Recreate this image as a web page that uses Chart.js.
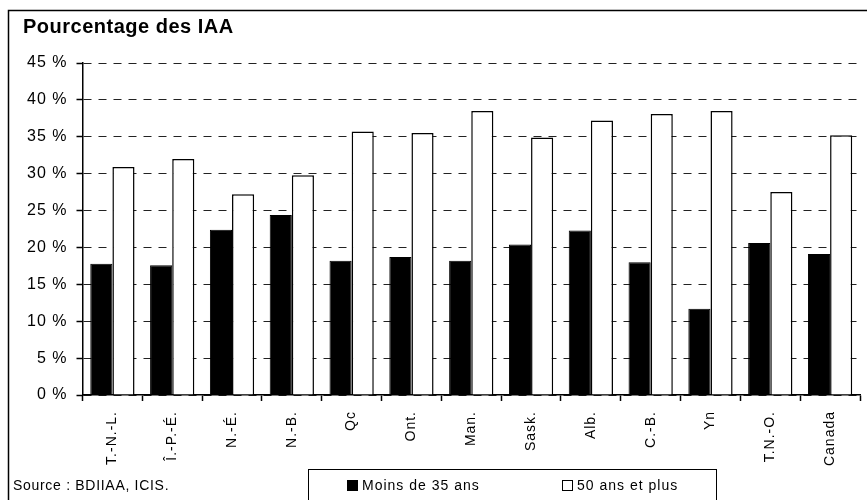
<!DOCTYPE html>
<html>
<head>
<meta charset="utf-8">
<script src="https://cdn.jsdelivr.net/npm/chart.js@4/dist/chart.umd.min.js"></script>
<style>
  html, body { margin: 0; padding: 0; background: #fff; }
  #chart { display: block; }
</style>
</head>
<body>
<canvas id="chart" width="867" height="500"></canvas>
<script>
// Data
const provinces = ['T.-N.-L.', 'Î.-P.-É.', 'N.-É.', 'N.-B.', 'Qc', 'Ont.', 'Man.',
    'Sask.', 'Alb.', 'C.-B.', 'Yn', 'T.N.-O.', 'Canada'];
const moins35 = [17.8, 17.6, 22.4, 24.4, 18.2, 18.7, 18.2, 20.4, 22.3, 18.0, 11.7, 20.6, 19.1];
const plus50 = [30.9, 32.0, 27.2, 29.8, 35.7, 35.5, 38.5, 34.9, 37.2, 38.1, 38.5, 27.5, 35.2];
const seriesNames = ['Moins de 35 ans', '50 ans et plus'];
const yTicks = [0, 5, 10, 15, 20, 25, 30, 35, 40, 45];

const FONT = "'Liberation Sans', Arial, sans-serif";

// Frame, title, source note and the boxed legend
const decorations = {
    id: 'decorations',
    beforeUpdate(chart) {
        chart.ctx.letterSpacing = '1px';
    },
    beforeDraw(chart) {
        const ctx = chart.ctx;
        ctx.save();
        ctx.fillStyle = '#fff';
        ctx.fillRect(0, 0, chart.width, chart.height);
        ctx.restore();
    },
    afterDraw(chart) {
        const ctx = chart.ctx;
        ctx.save();
        ctx.strokeStyle = '#000';
        ctx.lineWidth = 1.5;
        ctx.strokeRect(8.5, 10.5, 870, 500);

        ctx.fillStyle = '#000';
        ctx.textBaseline = 'alphabetic';
        ctx.textAlign = 'left';
        ctx.letterSpacing = '0.5px';
        ctx.font = 'bold 20px ' + FONT;
        ctx.fillText('Pourcentage des IAA', 23, 33);

        ctx.letterSpacing = '0.7px';
        ctx.font = '14px ' + FONT;
        ctx.textBaseline = 'middle';
        ctx.fillText('Source : BDIIAA, ICIS.', 13, 486);

        // legend box
        ctx.lineWidth = 1;
        ctx.strokeRect(308.5, 469.5, 408, 40);
        const items = [
            { x: 347, text: seriesNames[0], ds: chart.data.datasets[0] },
            { x: 562, text: seriesNames[1], ds: chart.data.datasets[1] }
        ];
        ctx.letterSpacing = '1px';
        ctx.font = '14px ' + FONT;
        items.forEach(function (it) {
            ctx.fillStyle = it.ds.backgroundColor;
            ctx.fillRect(it.x, 480, 11, 11);
            ctx.strokeStyle = '#000';
            ctx.strokeRect(it.x + 0.5, 480.5, 10, 10);
            ctx.fillStyle = '#000';
            ctx.fillText(it.text, it.x + 15, 486);
        });
        ctx.restore();
    }
};

new Chart(document.getElementById('chart').getContext('2d'), {
    type: 'bar',
    data: {
        labels: provinces,
        datasets: [{
            label: seriesNames[0],
            data: moins35,
            backgroundColor: '#000',
            borderColor: '#000',
            borderWidth: 1,
            categoryPercentage: 0.74,
            barPercentage: 1
        }, {
            label: seriesNames[1],
            data: plus50,
            backgroundColor: '#fff',
            borderColor: '#000',
            borderWidth: 1.5,
            categoryPercentage: 0.74,
            barPercentage: 1
        }]
    },
    options: {
        responsive: false,
        animation: false,
        devicePixelRatio: 1,
        layout: { padding: { left: 0, right: 7, top: 63, bottom: 0 } },
        plugins: {
            legend: { display: false },
            title: { display: false },
            tooltip: { enabled: false }
        },
        scales: {
            x: {
                afterFit: function (scale) { scale.height = 105; },
                grid: {
                    offset: true,
                    drawOnChartArea: false,
                    drawTicks: true,
                    tickLength: 6,
                    tickColor: '#000',
                    tickWidth: 1.5
                },
                border: { display: true, color: '#000', width: 1.5 },
                ticks: {
                    minRotation: 90,
                    maxRotation: 90,
                    padding: 10,
                    color: '#000',
                    font: { family: FONT, size: 14 }
                }
            },
            y: {
                min: 0,
                max: 45,
                afterFit: function (scale) { scale.width = 82.5; },
                afterBuildTicks: function (scale) {
                    scale.ticks = yTicks.map(function (v) { return { value: v }; });
                },
                grid: {
                    color: '#222',
                    lineWidth: 1,
                    drawTicks: true,
                    tickLength: 6,
                    tickColor: '#000',
                    tickWidth: 1.5,
                    tickBorderDash: []
                },
                border: { display: true, color: '#000', width: 1.5, dash: [8, 7] },
                ticks: {
                    padding: 9,
                    color: '#000',
                    font: { family: FONT, size: 16 },
                    callback: function (v) { return v + ' %'; }
                }
            }
        }
    },
    plugins: [decorations]
});
</script>
</body>
</html>
